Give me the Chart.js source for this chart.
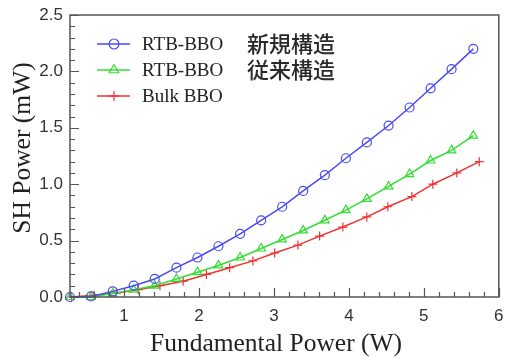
<!DOCTYPE html>
<html>
<head>
<meta charset="utf-8">
<script src="https://cdn.jsdelivr.net/npm/chart.js@4"></script>
<style>
  html, body { margin: 0; padding: 0; background: #fff; }
  #wrap { width: 505px; height: 361px; }
</style>
</head>
<body>
<div id="wrap"><canvas id="c"></canvas></div>
<script>
// data
const xNew = [0.28, 0.56, 0.85, 1.13, 1.41, 1.70, 1.98, 2.26, 2.55, 2.83, 3.11, 3.39, 3.68, 3.96, 4.24, 4.53, 4.81, 5.09, 5.37, 5.66];
const yNew = [0.00, 0.005, 0.05, 0.10, 0.16, 0.26, 0.35, 0.45, 0.56, 0.68, 0.80, 0.94, 1.08, 1.23, 1.37, 1.52, 1.68, 1.85, 2.02, 2.20];
const xOld = [0.28, 0.56, 0.85, 1.13, 1.41, 1.70, 1.98, 2.26, 2.55, 2.83, 3.11, 3.39, 3.68, 3.96, 4.24, 4.53, 4.81, 5.09, 5.37, 5.66];
const yOld = [0.00, 0.00, 0.03, 0.065, 0.10, 0.16, 0.22, 0.28, 0.35, 0.43, 0.51, 0.59, 0.68, 0.77, 0.87, 0.98, 1.09, 1.21, 1.30, 1.43];
const xBulk = [0.30, 0.60, 0.90, 1.19, 1.48, 1.79, 2.10, 2.41, 2.72, 3.01, 3.32, 3.61, 3.92, 4.24, 4.52, 4.84, 5.12, 5.44, 5.74];
const yBulk = [0.00, 0.015, 0.035, 0.065, 0.10, 0.14, 0.20, 0.26, 0.32, 0.39, 0.46, 0.54, 0.62, 0.71, 0.80, 0.89, 1.00, 1.10, 1.20];

const seriesLabels = ['RTB-BBO', 'RTB-BBO', 'Bulk BBO'];
const seriesNotes = ['新規構造', '従来構造', ''];
const xTicks = [1, 2, 3, 4, 5, 6];
const xTitle = 'Fundamental Power (W)';
const yTitle = 'SH Power (mW)';
const xMinorStep = 0.2;
const yMinorStep = 0.1;

const pts = (xs, ys) => xs.map((x, i) => ({ x: x, y: ys[i] }));

// inward tick marks, frame, axis titles and the in-plot legend
const framePlugin = {
    id: 'frame',
    afterDraw(chart) {
        const { ctx, chartArea: a, scales: { x, y } } = chart;
        ctx.save();
        ctx.strokeStyle = '#555';
        ctx.lineWidth = 1.5;
        ctx.strokeRect(a.left, a.top, a.right - a.left, a.bottom - a.top);

        ctx.lineWidth = 1.2;
        ctx.beginPath();
        for (let v = 0.4; v < 6.001; v += xMinorStep) {
            const px = Math.round(x.getPixelForValue(v)) + 0.5;
            const major = Math.abs(v - Math.round(v)) < 0.01;
            ctx.moveTo(px, a.bottom);
            ctx.lineTo(px, a.bottom - (major ? 9 : 5));
        }
        for (let v = 0; v < 2.501; v += yMinorStep) {
            const py = Math.round(y.getPixelForValue(v)) + 0.5;
            const major = Math.abs(v * 2 - Math.round(v * 2)) < 0.01;
            ctx.moveTo(a.left, py);
            ctx.lineTo(a.left + (major ? 9 : 5), py);
        }
        ctx.stroke();

        // axis titles (sit a little off-centre in the original)
        ctx.fillStyle = '#222';
        ctx.font = '25.5px "Liberation Serif", serif';
        ctx.textAlign = 'center';
        ctx.textBaseline = 'middle';
        ctx.fillText(xTitle, 276, 344);
        ctx.save();
        ctx.translate(23, 148);
        ctx.rotate(-Math.PI / 2);
        ctx.fillText(yTitle, 0, 0);
        ctx.restore();

        // legend
        ctx.textAlign = 'left';
        chart.data.datasets.forEach((ds, i) => {
            const ly = 44 + i * 26;
            ctx.strokeStyle = ds.borderColor;
            ctx.lineWidth = 1.5;
            ctx.beginPath();
            ctx.moveTo(97, ly);
            ctx.lineTo(130, ly);
            ctx.stroke();
            ctx.fillStyle = 'rgba(255,255,255,0)';
            ctx.lineWidth = 1.2;
            Chart.helpers.drawPoint(ctx, {
                pointStyle: ds.pointStyle, radius: ds.pointRadius + 0.5, borderWidth: 1.2
            }, 114, ly);
            ctx.fillStyle = '#222';
            ctx.font = '19px "Liberation Serif", serif';
            ctx.fillText(ds.label, 142, ly + 1);
            if (seriesNotes[i]) {
                ctx.fillStyle = '#2a2a2a';
                ctx.font = '500 22px "Noto Sans CJK JP", sans-serif';
                ctx.fillText(seriesNotes[i], 247, ly);
            }
        });
        ctx.restore();
    }
};

const ds = (label, data, color, style, r) => ({
    label: label,
    data: data,
    borderColor: color,
    backgroundColor: 'rgba(0,0,0,0)',
    borderWidth: 1.5,
    pointStyle: style,
    pointRadius: r,
    pointBorderWidth: 1.2,
    pointBorderColor: color,
    clip: false,
    tension: 0
});

new Chart(document.getElementById('c'), {
    type: 'line',
    data: {
        datasets: [
            ds(seriesLabels[0], pts(xNew, yNew), '#4a4af2', 'circle', 4.5),
            ds(seriesLabels[1], pts(xOld, yOld), '#33dd33', 'triangle', 5),
            ds(seriesLabels[2], pts(xBulk, yBulk), '#f03232', 'cross', 4.5)
        ]
    },
    options: {
        responsive: true,
        maintainAspectRatio: false,
        animation: false,
        layout: { padding: { left: 0, top: 15, right: 3, bottom: 0 } },
        plugins: { legend: { display: false }, tooltip: { enabled: false } },
        scales: {
            x: {
                type: 'linear',
                min: 0.28,
                max: 6,
                grid: { display: false, drawTicks: false },
                border: { display: false },
                afterBuildTicks: (s) => { s.ticks = xTicks.map(v => ({ value: v })); },
                afterFit: (s) => { s.height = 64; s.paddingLeft = 0; s.paddingRight = 0; },
                ticks: {
                    padding: 9,
                    maxRotation: 0,
                    color: '#333',
                    font: { family: '"Liberation Sans", Arial, sans-serif', size: 17 },
                    callback: (v) => String(v)
                },
                title: { display: false }
            },
            y: {
                min: 0,
                max: 2.5,
                grid: { display: false, drawTicks: false },
                border: { display: false },
                afterFit: (s) => { s.width = 70; s.paddingTop = 0; s.paddingBottom = 0; },
                ticks: {
                    stepSize: 0.5,
                    padding: 7,
                    color: '#333',
                    font: { family: '"Liberation Sans", Arial, sans-serif', size: 17 },
                    callback: (v) => v.toFixed(1)
                },
                title: { display: false }
            }
        }
    },
    plugins: [framePlugin]
});
</script>
</body>
</html>
